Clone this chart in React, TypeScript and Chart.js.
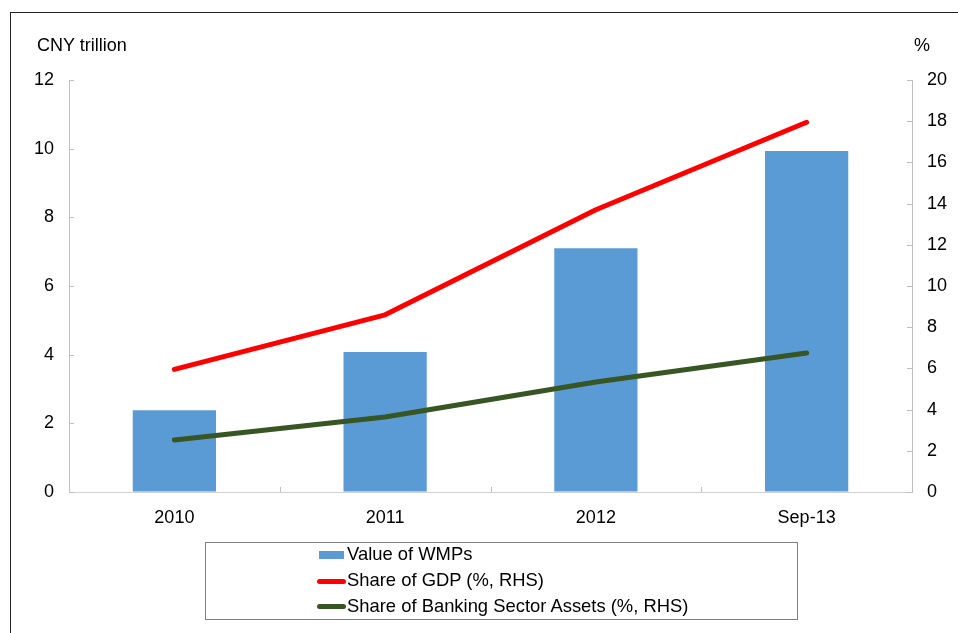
import React, { useEffect, useRef } from "react";
import { Chart, registerables } from "chart.js";

Chart.register(...registerables);

const categories = ["2010", "2011", "2012", "Sep-13"];
const wmpValues = [2.38, 4.08, 7.1, 9.93];
const gdpShare = [5.95, 8.6, 13.7, 17.95];
const bankShare = [2.52, 3.64, 5.34, 6.75];
const leftTicks = [0, 2, 4, 6, 8, 10, 12];
const rightTicks = [0, 2, 4, 6, 8, 10, 12, 14, 16, 18, 20];

const FONT = '"Liberation Sans", Arial, sans-serif';
const BAR = "#5B9BD5";
const RED = "#FF0000";
const GREEN = "#375623";
const AXIS = "#BFBFBF";

const innerTicks = {
  id: "innerTicks",
  afterDraw(chart: any) {
    const { ctx, chartArea } = chart;
    const y = chart.scales.y;
    const y1 = chart.scales.y1;
    ctx.save();
    ctx.strokeStyle = AXIS;
    ctx.lineWidth = 1;
    ctx.beginPath();
    leftTicks.forEach((v) => {
      const p = Math.round(y.getPixelForValue(v)) + 0.5;
      ctx.moveTo(chartArea.left, p);
      ctx.lineTo(chartArea.left + 5, p);
    });
    rightTicks.forEach((v) => {
      const p = Math.round(y1.getPixelForValue(v)) + 0.5;
      ctx.moveTo(chartArea.right - 5, p);
      ctx.lineTo(chartArea.right, p);
    });
    const n = categories.length;
    const w = (chartArea.right - chartArea.left) / n;
    for (let i = 1; i < n; i++) {
      const p = Math.round(chartArea.left + i * w) + 0.5;
      ctx.moveTo(p, chartArea.bottom);
      ctx.lineTo(p, chartArea.bottom - 5);
    }
    ctx.stroke();
    ctx.restore();
  },
};

export default function App() {
  const ref = useRef<HTMLCanvasElement | null>(null);

  useEffect(() => {
    if (!ref.current) return;
    const chart = new Chart(ref.current, {
      type: "bar",
      data: {
        labels: categories,
        datasets: [
          {
            type: "line",
            label: "Share of GDP (%, RHS)",
            data: gdpShare,
            yAxisID: "y1",
            borderColor: RED,
            backgroundColor: RED,
            borderWidth: 5,
            pointRadius: 0,
            borderCapStyle: "round",
            borderJoinStyle: "round",
            tension: 0,
            fill: false,
            order: 1,
          } as any,
          {
            type: "line",
            label: "Share of Banking Sector Assets (%, RHS)",
            data: bankShare,
            yAxisID: "y1",
            borderColor: GREEN,
            backgroundColor: GREEN,
            borderWidth: 5,
            pointRadius: 0,
            borderCapStyle: "round",
            borderJoinStyle: "round",
            tension: 0,
            fill: false,
            order: 2,
          } as any,
          {
            type: "bar",
            label: "Value of WMPs",
            data: wmpValues,
            yAxisID: "y",
            backgroundColor: BAR,
            categoryPercentage: 1,
            barPercentage: 0.395,
            order: 3,
          } as any,
        ],
      },
      options: {
        animation: false,
        responsive: false,
        maintainAspectRatio: false,
        layout: { padding: { top: 80, left: 0, right: 0, bottom: 0 } },
        plugins: {
          legend: { display: false },
          tooltip: { enabled: false },
        },
        scales: {
          x: {
            grid: { drawOnChartArea: false, drawTicks: false },
            border: { display: true, color: "#D0D0D0" },
            ticks: { color: "#000", font: { family: FONT, size: 18 }, padding: 15 },
            afterFit: (s: any) => {
              s.height = 141;
            },
          },
          y: {
            position: "left",
            min: 0,
            max: 12,
            grid: { drawOnChartArea: false, drawTicks: false },
            border: { display: true, color: AXIS },
            ticks: { stepSize: 2, color: "#000", font: { family: FONT, size: 18 }, padding: 15 },
            afterFit: (s: any) => {
              s.width = 69;
            },
          },
          y1: {
            position: "right",
            min: 0,
            max: 20,
            grid: { drawOnChartArea: false, drawTicks: false },
            border: { display: true, color: AXIS },
            ticks: { stepSize: 2, color: "#000", font: { family: FONT, size: 18 }, padding: 15 },
            afterFit: (s: any) => {
              s.width = 46;
            },
          },
        },
      } as any,
      plugins: [innerTicks],
    });
    return () => chart.destroy();
  }, []);

  const text: React.CSSProperties = {
    position: "absolute",
    fontFamily: FONT,
    fontSize: 18,
    lineHeight: "18px",
    color: "#000",
    whiteSpace: "nowrap",
  };
  const legText: React.CSSProperties = { ...text, fontSize: 18.4 };

  return (
    <div
      style={{
        position: "absolute",
        left: 0,
        top: 0,
        width: 958,
        height: 633,
        overflow: "hidden",
        background: "#fff",
      }}
    >
      <div
        style={{
          position: "absolute",
          left: 10,
          top: 12,
          width: 1000,
          height: 700,
          border: "1.5px solid #222",
        }}
      />
      <canvas ref={ref} width={958} height={633} style={{ position: "absolute", left: 0, top: 0 }} />
      <div style={{ ...text, left: 37, top: 36 }}>CNY trillion</div>
      <div style={{ ...text, left: 914, top: 36 }}>%</div>
      <div
        style={{
          position: "absolute",
          left: 205,
          top: 542,
          width: 591,
          height: 76,
          border: "1px solid #808080",
        }}
      />
      <div style={{ position: "absolute", left: 319, top: 551, width: 25, height: 8, background: BAR }} />
      <div style={{ ...legText, left: 347, top: 545 }}>Value of WMPs</div>
      <div style={{ position: "absolute", left: 317, top: 579, width: 29, height: 5, borderRadius: 3, background: RED }} />
      <div style={{ ...legText, left: 347, top: 571 }}>Share of GDP (%, RHS)</div>
      <div style={{ position: "absolute", left: 317, top: 604, width: 29, height: 5, borderRadius: 3, background: GREEN }} />
      <div style={{ ...legText, left: 347, top: 597 }}>Share of Banking Sector Assets (%, RHS)</div>
    </div>
  );
}
